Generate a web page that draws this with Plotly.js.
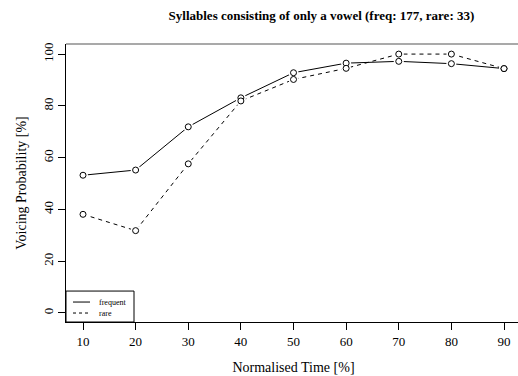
<!DOCTYPE html>
<html>
<head>
<meta charset="utf-8">
<script src="https://cdn.plot.ly/plotly-3.0.1.min.js"></script>
<style>
html, body { margin: 0; padding: 0; overflow: hidden; background: #fff; }
#chart { width: 521px; height: 376px; }
</style>
</head>
<body>
<div id="chart"></div>
<script>
const times = [10, 20, 30, 40, 50, 60, 70, 80, 90];
const frequent = [53.2, 55.2, 71.9, 83.1, 92.8, 96.5, 97.2, 96.3, 94.4];
const rare = [38.1, 31.8, 57.6, 81.9, 90.2, 94.5, 100, 100, 94.4];
const xTicks = [10, 20, 30, 40, 50, 60, 70, 80, 90];
const yTicks = [0, 20, 40, 60, 80, 100];
const seriesNames = ['frequent', 'rare'];
const titleText = 'Syllables consisting of only a vowel (freq: 177, rare: 33)';

const serif = 'Liberation Serif, Times New Roman, serif';
const circle = { symbol: 'circle', size: 6, color: 'white', line: { width: 1, color: 'black' } };
const gap = { symbol: 'circle', size: 10, color: 'white', line: { width: 0 } };

const series = [
  { y: frequent, name: seriesNames[0], dash: 'solid' },
  { y: rare, name: seriesNames[1], dash: '4px,4px' }
];
const traces = [];
series.forEach(s => traces.push({ x: times, y: s.y, name: s.name, mode: 'lines', type: 'scatter',
  line: { color: 'black', width: 1, dash: s.dash }, showlegend: false }));
series.forEach(s => traces.push({ x: times, y: s.y, name: s.name, mode: 'markers', type: 'scatter',
  marker: gap, showlegend: false, hoverinfo: 'skip' }));
series.forEach(s => traces.push({ x: times, y: s.y, name: s.name, mode: 'markers', type: 'scatter',
  marker: circle, showlegend: false }));

// plot area pixel geometry: l=66, t=43.5, w=455, h=278.5
const L = 66, T = 43.5, W = 455, H = 278.5;
const px = v => (v - L) / W;
const py = v => (T + H - v) / H;

const layout = {
  width: 521, height: 376,
  margin: { l: 66, r: 0, t: 43.5, b: 54, pad: 0 },
  paper_bgcolor: 'white', plot_bgcolor: 'white',
  font: { family: serif, color: 'black', size: 13 },
  title: { text: '<b>' + titleText + '</b>', font: { family: serif, size: 13, color: 'black' },
           x: 292.5 / 521, xanchor: 'center', xref: 'paper', y: 1 - 15 / 376, yanchor: 'middle' },
  xaxis: {
    range: [6.77, 93.23], tickvals: xTicks, ticktext: xTicks.map(String),
    showline: true, linecolor: 'black', linewidth: 1, ticks: 'outside', ticklen: 7, tickcolor: 'black',
    showgrid: false, zeroline: false, tickfont: { family: serif, size: 13 },
    title: { text: 'Normalised Time [%]', font: { family: serif, size: 14 }, standoff: 14 }
  },
  yaxis: {
    range: [-3.5, 103.9], tickvals: yTicks, ticktext: yTicks.map(String), tickangle: -90,
    showline: true, linecolor: 'black', linewidth: 1, ticks: 'outside', ticklen: 7, tickcolor: 'black',
    showgrid: false, zeroline: false, tickfont: { family: serif, size: 13 },
    title: { text: 'Voicing Probability [%]', font: { family: serif, size: 14 }, standoff: 10 }
  },
  shapes: [
    { type: 'line', xref: 'paper', yref: 'paper', x0: 0, x1: 1, y0: 1, y1: 1, line: { color: '#555', width: 1.2 } },
    { type: 'rect', xref: 'paper', yref: 'paper', x0: 0, x1: px(134), y0: 0, y1: py(291), line: { color: 'black', width: 1 }, fillcolor: 'white' },
    { type: 'line', xref: 'paper', yref: 'paper', x0: px(73), x1: px(90), y0: py(302), y1: py(302), line: { color: 'black', width: 1 } },
    { type: 'line', xref: 'paper', yref: 'paper', x0: px(73), x1: px(90), y0: py(313), y1: py(313), line: { color: 'black', width: 1, dash: '3px,3px' } }
  ],
  annotations: [
    { xref: 'paper', yref: 'paper', x: px(97), y: py(302), xanchor: 'left', yanchor: 'middle', showarrow: false,
      text: seriesNames[0], font: { family: serif, size: 8, color: 'black' } },
    { xref: 'paper', yref: 'paper', x: px(97), y: py(313), xanchor: 'left', yanchor: 'middle', showarrow: false,
      text: seriesNames[1], font: { family: serif, size: 8, color: 'black' } }
  ]
};

Plotly.newPlot('chart', traces, layout, { displayModeBar: false, staticPlot: true });
</script>
</body>
</html>
